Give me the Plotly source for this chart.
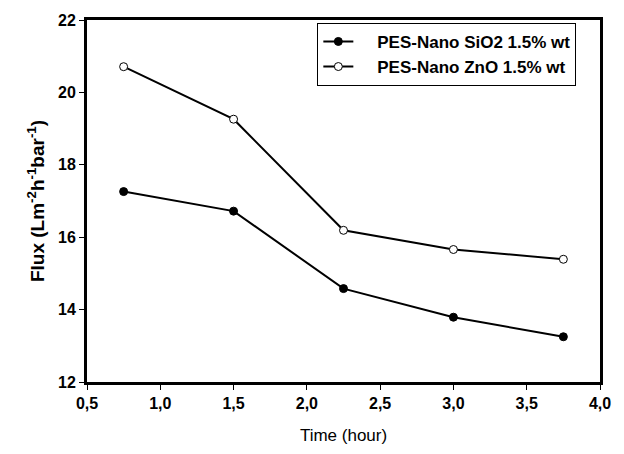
import plotly.graph_objects as go

time_h = [0.75, 1.5, 2.25, 3.0, 3.75]
flux_sio2 = [17.26, 16.72, 14.58, 13.79, 13.25]
flux_zno = [20.71, 19.26, 16.19, 15.66, 15.39]
name_sio2 = "PES-Nano SiO2 1.5% wt"
name_zno = "PES-Nano ZnO 1.5% wt"
x_ticks = [0.5, 1.0, 1.5, 2.0, 2.5, 3.0, 3.5, 4.0]
y_ticks = [12, 14, 16, 18, 20, 22]

FONT = "Liberation Sans, Arial"
PAD = "\u00a0" * 4

fig = go.Figure()
fig.add_trace(go.Scatter(x=time_h, y=flux_sio2, name=PAD + "<b>" + name_sio2 + "</b>",
                         mode="lines+markers",
                         line=dict(color="black", width=2),
                         marker=dict(symbol="circle", size=8, color="black",
                                     line=dict(color="black", width=1))))
fig.add_trace(go.Scatter(x=time_h, y=flux_zno, name=PAD + "<b>" + name_zno + "</b>",
                         mode="lines+markers",
                         line=dict(color="black", width=2),
                         marker=dict(symbol="circle", size=8, color="white",
                                     line=dict(color="black", width=1))))

axis_common = dict(showline=True, linecolor="black", linewidth=3, mirror=True,
                   ticks="outside", ticklen=5, tickwidth=1, tickcolor="black",
                   showgrid=False, zeroline=False,
                   tickfont=dict(family=FONT, size=16, color="black"))

fig.update_layout(
    width=624, height=454,
    margin=dict(l=87, r=24, t=15, b=69),
    plot_bgcolor="white", paper_bgcolor="white",
    font=dict(family=FONT, color="black"),
    xaxis=dict(range=[0.5, 4.0], tickvals=x_ticks,
               ticktext=["<b>" + f"{v:.1f}".replace(".", ",") + "</b>" for v in x_ticks],
               title=dict(text="Time (hour)", font=dict(size=17, color="black"), standoff=18),
               **axis_common),
    yaxis=dict(range=[12, 22], tickvals=y_ticks,
               ticktext=["<b>" + str(v) + "</b>" for v in y_ticks],
               title=dict(text="<b>Flux (Lm<sup>-2</sup>h<sup>-1</sup>bar<sup>-1</sup>)</b>",
                          font=dict(size=19, color="black"), standoff=9),
               **axis_common),
    legend=dict(x=0.449, y=0.992, xanchor="left", yanchor="top",
                bordercolor="black", borderwidth=1, bgcolor="white",
                font=dict(size=17, color="black"),
                tracegroupgap=0, itemwidth=30),
)

fig.write_html("out.html")
